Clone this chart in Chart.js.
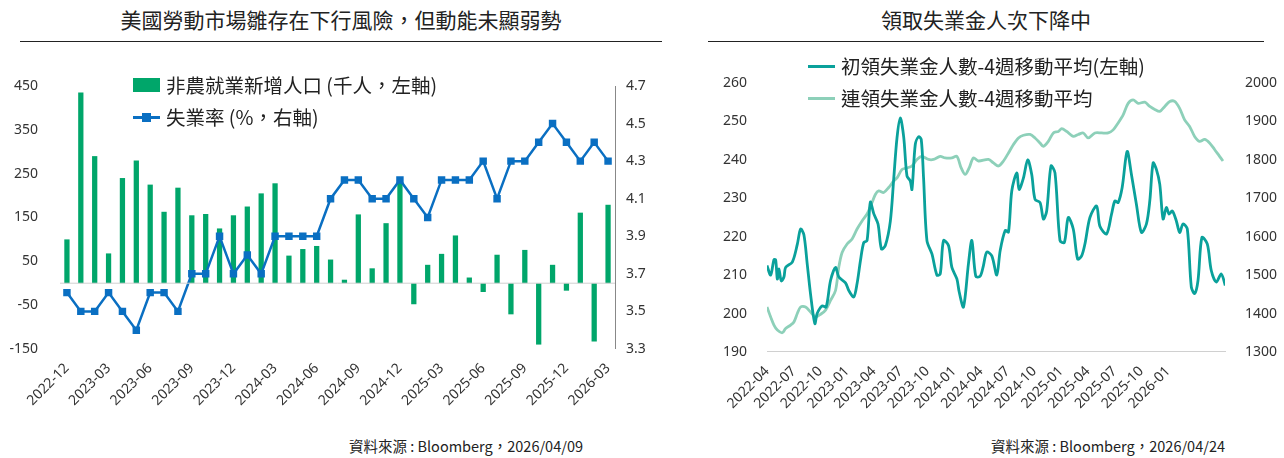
<!DOCTYPE html>
<html>
<head>
<meta charset="utf-8">
<script src="https://cdn.jsdelivr.net/npm/chart.js@4"></script>
<style>
  body { margin: 0; width: 1284px; height: 458px; background: #fff; position: relative; overflow: hidden;
         font-family: "Noto Sans CJK TC", "Noto Sans", sans-serif; color: #222; }
  .title { position: absolute; top: 4px; font-size: 21px; text-align: center; }
  .rule { position: absolute; top: 41px; height: 1px; background: #222; }
  .box { position: absolute; }
  .legend { position: absolute; font-size: 19.5px; line-height: 32px; }
  .legend div { display: flex; align-items: center; white-space: nowrap; }
  .src { position: absolute; top: 435px; font-size: 14.5px; text-align: right; }
</style>
</head>
<body>
<div class="title" style="left:20px;width:642px;">美國勞動市場雛存在下行風險，但動能未顯弱勢</div>
<div class="rule" style="left:20px;width:642px;"></div>
<div class="title" style="left:708px;width:556px;">領取失業金人次下降中</div>
<div class="rule" style="left:708px;width:556px;"></div>

<div class="box" style="left:10px;top:60px;width:650px;height:352px;"><canvas id="left"></canvas></div>
<div class="box" style="left:720px;top:60px;width:560px;height:355px;"><canvas id="right"></canvas></div>

<div class="legend" style="left:133px;top:69px;">
  <div><span style="display:inline-block;width:27px;height:14px;background:#00a66a;margin-right:6px;"></span>非農就業新增人口 (千人，左軸)</div>
  <div><span style="display:inline-block;width:27px;height:3px;background:#0a6fc2;margin-right:6px;position:relative;"><span style="position:absolute;left:9px;top:-3px;width:9px;height:9px;background:#0a6fc2;"></span></span>失業率 (%，右軸)</div>
</div>
<div class="legend" style="left:808px;top:50px;">
  <div><span style="display:inline-block;width:27px;height:3px;background:#0aa19b;margin-right:6px;"></span>初領失業金人數-4週移動平均(左軸)</div>
  <div><span style="display:inline-block;width:27px;height:3px;background:#8dd0b9;margin-right:6px;"></span>連領失業金人數-4週移動平均</div>
</div>

<div class="src" style="left:283px;width:300px;">資料來源 : Bloomberg，2026/04/09</div>
<div class="src" style="left:925px;width:300px;">資料來源 : Bloomberg，2026/04/24</div>

<script>
// 左圖：2022-12 ~ 2026-03 月資料
const months = [];
for (let i = 0; i < 40; i++) {
  const y = 2022 + Math.floor((11 + i) / 12), m = (11 + i) % 12 + 1;
  months.push(y + "-" + String(m).padStart(2, "0"));
}
const payrolls = [100, 435, 290, 68, 240, 280, 225, 163, 218, 155, 158, 125, 155, 175, 205, 228,
  63, 78, 85, 54, 8, 157, 34, 137, 236, -48, 42, 67, 109, 13, -20, 65, -71, 76, -140, 42, -17, 161, -133, 179];
const unemployment = [3.6, 3.5, 3.5, 3.6, 3.5, 3.4, 3.6, 3.6, 3.5, 3.7, 3.7, 3.9, 3.7, 3.8, 3.7, 3.9,
  3.9, 3.9, 3.9, 4.1, 4.2, 4.2, 4.1, 4.1, 4.2, 4.1, 4.0, 4.2, 4.2, 4.2, 4.3, 4.1, 4.3, 4.3, 4.4, 4.5, 4.4, 4.3, 4.4, 4.3];

// 右圖：x = 自 2022-04 起的月數
const initialX = [0, 0.41, 0.78, 0.97, 1.16, 1.34, 1.6, 1.9, 2.09, 2.84, 3.4, 3.77, 4.14, 4.51, 4.89, 5.37, 5.63,
  6.19, 6.64, 7.13, 7.69, 8.06, 8.81, 9.18, 9.74, 10.11, 10.49, 10.86, 11.23, 11.6, 11.98, 12.46, 12.84, 13.28,
  13.84, 14.22, 14.59, 14.96, 15.34, 15.71, 16.08, 16.27, 16.64, 17.01, 17.31, 17.57, 17.95, 18.51, 19.07, 19.44,
  19.81, 20.37, 20.75, 21.31, 21.57, 22.05, 22.61, 22.99, 23.43, 23.92, 24.29, 24.66, 25.23, 25.79, 26.17, 26.73,
  27.1, 27.47, 28.03, 28.29, 28.78, 29.26, 29.71, 30.08, 30.64, 31.02, 31.39, 31.87, 32.32, 32.88, 33.37, 33.81,
  34.37, 34.86, 35.31, 35.68, 36.24, 36.99, 37.36, 38.11, 38.67, 39.04, 39.41, 39.86, 40.42, 40.9, 41.46, 42.02,
  42.58, 42.96, 43.33, 43.7, 44.08, 44.45, 44.82, 45.12, 45.49, 45.94, 46.31, 46.69, 47.17, 47.62, 48.0, 48.37,
  48.81, 49.41, 49.86, 50.42, 50.98, 51.43];
const initialClaims = [212.5, 210, 214, 214, 209, 211.6, 208.5, 209.5, 212, 213.4, 218, 222, 220.5, 213, 205, 197.4, 200,
  202, 201.7, 208.6, 212, 209.5, 208, 206, 204.3, 207.8, 213.8, 218.5, 219, 229, 226, 223.3, 216.8, 217.7,
  224, 235, 245.7, 250.9, 246, 235.8, 234.5, 232.3, 244, 246, 245.3, 235.3, 219, 215.5, 210, 210.3,
  219, 217.7, 212, 209, 205.6, 201.7, 213, 219, 209.7, 209.7, 212.5, 216, 215, 210, 216.4, 221.6,
  221.2, 231.9, 236.6, 232.3, 235.3, 240, 236.2, 229.7, 228.9, 224.6, 226.7, 238.4, 236.6, 219, 218.5, 225,
  222, 214.2, 215, 218.1, 225, 228, 222.7, 220.7, 225.9, 229.3, 228.9, 232.8, 242.2, 236.2, 228.4, 221.1,
  223.3, 229.3, 239.2, 237.5, 233.6, 224.6, 227.6, 225.9, 226.7, 224.1, 221.1, 223.3, 222, 206.9, 205.2, 208.6,
  219.8, 218.1, 211.2, 208.2, 210.3, 207.3];
const continuingX = [0, 0.41, 0.78, 1.16, 1.72, 2.09, 2.65, 3.02, 3.4, 3.77, 4.33, 4.89, 5.45, 6.01, 6.57, 7.13, 7.69,
  8.06, 8.43, 8.99, 9.55, 10.11, 10.67, 11.23, 11.79, 12.16, 12.54, 13.1, 13.66, 14.22, 14.59, 15.15, 15.71,
  16.27, 16.83, 17.39, 18.13, 18.69, 19.44, 20.0, 20.75, 21.31, 21.79, 22.24, 22.69, 23.17, 23.73, 24.86, 25.42,
  25.98, 26.54, 27.1, 27.66, 28.22, 28.78, 29.52, 30.08, 30.64, 31.02, 31.57, 32.14, 32.7, 33.07, 33.63, 34.37,
  34.93, 35.49, 36.05, 36.8, 37.55, 38.29, 38.85, 39.41, 39.97, 40.53, 41.09, 41.65, 42.4, 42.96, 43.52, 44.08,
  44.64, 45.2, 45.75, 46.31, 46.87, 47.43, 47.99, 48.55, 49.11, 49.67, 50.23, 50.79, 51.17];
const continuingClaims = [1417, 1391, 1370, 1357, 1350, 1361, 1370, 1378, 1400, 1417, 1417, 1404, 1391, 1398, 1409, 1434, 1460,
  1521, 1559, 1581, 1594, 1620, 1641, 1659, 1689, 1710, 1719, 1715, 1728, 1745, 1753, 1775, 1779,
  1784, 1801, 1809, 1801, 1801, 1809, 1805, 1805, 1809, 1779, 1762, 1779, 1805, 1797, 1801, 1792,
  1784, 1797, 1818, 1840, 1857, 1864, 1866, 1857, 1844, 1835, 1848, 1870, 1874, 1881, 1874, 1861,
  1866, 1870, 1857, 1870, 1870, 1870, 1878, 1896, 1917, 1947, 1956, 1947, 1950, 1939, 1931, 1926,
  1939, 1952, 1952, 1934, 1904, 1887, 1861, 1848, 1853, 1844, 1827, 1809, 1797];
const quarterLabels = ["2022-04", "2022-07", "2022-10", "2023-01", "2023-04", "2023-07", "2023-10", "2024-01",
  "2024-04", "2024-07", "2024-10", "2025-01", "2025-04", "2025-07", "2025-10", "2026-01"];

Chart.defaults.font.family = '"Noto Sans", "Noto Sans CJK TC", sans-serif';
Chart.defaults.font.size = 14;
Chart.defaults.color = "#333";
Chart.defaults.animation = false;

const tickFont = { size: 14 };

new Chart(document.getElementById("left"), {
  data: {
    labels: months,
    datasets: [
      { type: "line", data: unemployment, yAxisID: "y1", borderColor: "#0a6fc2", backgroundColor: "#0a6fc2",
        borderWidth: 2.5, pointStyle: "rect", pointRadius: 3.5, tension: 0, order: 0 },
      { type: "bar", data: payrolls, yAxisID: "y", backgroundColor: "#00a66a",
        barPercentage: 0.38, categoryPercentage: 1, order: 1 },
    ],
  },
  options: {
    responsive: true, maintainAspectRatio: false,
    layout: { padding: { top: 26, right: 0, left: 0, bottom: 0 } },
    plugins: { legend: { display: false }, tooltip: { enabled: false } },
    scales: {
      x: {
        grid: { display: false },
        border: { display: false },
        ticks: { autoSkip: false, maxRotation: 45, minRotation: 45, font: tickFont,
          callback: function (v, i) { return i % 3 === 0 ? months[i] : ""; } },
      },
      y: {
        min: -150, max: 450, position: "left",
        grid: { display: false }, border: { display: false },
        afterBuildTicks: function (a) { a.ticks = [-150, -50, 50, 150, 250, 350, 450].map(function (v) { return { value: v }; }); },
        ticks: { font: tickFont, padding: 14 },
        afterFit: function (a) { a.width = 50; },
      },
      y1: {
        min: 3.3, max: 4.7, position: "right",
        grid: { display: false, drawTicks: true }, border: { display: true, color: "#888" },
        afterBuildTicks: function (a) { a.ticks = [3.3, 3.5, 3.7, 3.9, 4.1, 4.3, 4.5, 4.7].map(function (v) { return { value: v }; }); },
        ticks: { font: tickFont, callback: function (v) { return v.toFixed(1); } },
        afterFit: function (a) { a.width = 45; },
      },
    },
  },
  plugins: [{
    // 0 軸基準線
    afterDatasetsDraw: function (chart) {
      const c = chart.ctx, ya = chart.scales.y, xa = chart.scales.x;
      const y0 = ya.getPixelForValue(0);
      c.save(); c.strokeStyle = "#d0d0d0"; c.lineWidth = 1;
      c.beginPath(); c.moveTo(xa.left, y0); c.lineTo(xa.right, y0); c.stroke(); c.restore();
    },
  }],
});

new Chart(document.getElementById("right"), {
  type: "line",
  data: {
    datasets: [
      { data: initialX.map(function (x, i) { return { x: x, y: initialClaims[i] }; }), yAxisID: "y",
        borderColor: "#0aa19b", borderWidth: 2.8, pointRadius: 0, tension: 0.3 },
      { data: continuingX.map(function (x, i) { return { x: x, y: continuingClaims[i] }; }), yAxisID: "y1",
        borderColor: "#8dd0b9", borderWidth: 2.8, pointRadius: 0, tension: 0.3 },
    ],
  },
  options: {
    responsive: true, maintainAspectRatio: false,
    layout: { padding: { top: 23, right: 0, left: 0, bottom: 0 } },
    plugins: { legend: { display: false }, tooltip: { enabled: false } },
    scales: {
      x: {
        type: "linear", min: 0, max: 51.4,
        grid: { display: false, drawTicks: true },
        border: { display: true, color: "#d0d0d0" },
        afterBuildTicks: function (a) { a.ticks = quarterLabels.map(function (l, i) { return { value: i * 3 }; }); },
        ticks: { autoSkip: false, maxRotation: 45, minRotation: 45, font: tickFont,
          callback: function (v) { return quarterLabels[Math.round(v / 3)]; } },
      },
      y: {
        min: 190, max: 260, position: "left",
        grid: { display: false }, border: { display: false },
        ticks: { stepSize: 10, font: tickFont, padding: 12 },
        afterFit: function (a) { a.width = 47; },
      },
      y1: {
        min: 1300, max: 2000, position: "right",
        grid: { display: false }, border: { display: false },
        ticks: { stepSize: 100, font: tickFont, padding: 12, callback: function (v) { return String(v); } },
        afterFit: function (a) { a.width = 55; },
      },
    },
  },
});
</script>
</body>
</html>
